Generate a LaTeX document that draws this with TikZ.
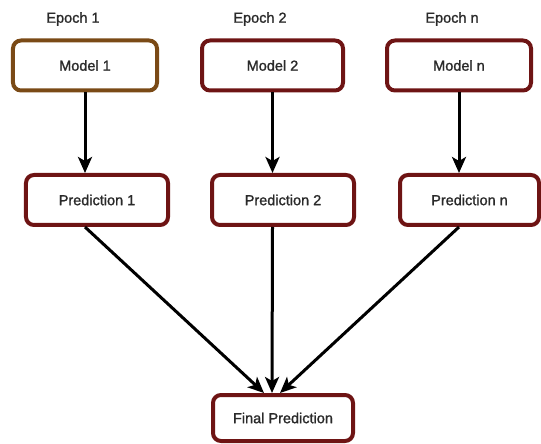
\documentclass[tikz,border=0pt]{standalone}
\usepackage{fontspec}
\setmainfont{Liberation Sans}[FakeBold=1.3]
\usetikzlibrary{arrows.meta,calc}
\definecolor{boxred}{HTML}{6E1414}
\definecolor{boxbrown}{HTML}{7A4A16}
\definecolor{txt}{HTML}{2A2A2A}
\tikzset{
  stagebox/.style={draw=boxred, line width=4bp, rounded corners=8bp, fill=white,
    minimum height=50bp, inner sep=0pt, text=txt,
    font=\fontsize{14.5bp}{16bp}\selectfont},
  epochlabel/.style={text=txt, inner sep=0pt, font=\fontsize{14.5bp}{16bp}\selectfont},
  flow/.style={line width=3bp, draw=black, -{Stealth[length=16bp,width=14bp,inset=4bp]}},
}
\begin{document}
\begin{tikzpicture}[x=1bp,y=-1bp]
  \useasboundingbox (0,0) rectangle (541,444);
  % epoch headings
  \node[epochlabel] (e1) at (73,19) {Epoch 1};
  \node[epochlabel] (e2) at (260,19) {Epoch 2};
  \node[epochlabel] (en) at (452,19) {Epoch n};
  % models
  \node[stagebox, draw=boxbrown, minimum width=144bp] (m1) at (85,65.5) {Model 1};
  \node[stagebox, minimum width=141bp] (m2) at (272.5,65.5) {Model 2};
  \node[stagebox, minimum width=144bp] (mn) at (459,65.5) {Model n};
  % predictions
  \node[stagebox, minimum width=142bp] (p1) at (97,200) {Prediction 1};
  \node[stagebox, minimum width=142bp] (p2) at (283,200) {Prediction 2};
  \node[stagebox, minimum width=139bp] (pn) at (469.5,200) {Prediction n};
  % final
  \node[stagebox, minimum width=140bp, minimum height=46bp] (f) at (283,418) {Final Prediction};
  % model -> prediction
  \draw[flow] (m1.south) -- (m1.south |- p1.north);
  \draw[flow] (m2.south) -- (m2.south |- p2.north);
  \draw[flow] (mn.south) -- (mn.south |- pn.north);
  % predictions -> final
  \draw[flow] (m1.south |- p1.south) -- ([xshift=-19bp]f.north);
  \draw[flow] (m2.south |- p2.south) -- ([xshift=-11bp]f.north);
  \draw[flow] (mn.south |- pn.south) -- ([xshift=-3bp]f.north);
\end{tikzpicture}
\end{document}
